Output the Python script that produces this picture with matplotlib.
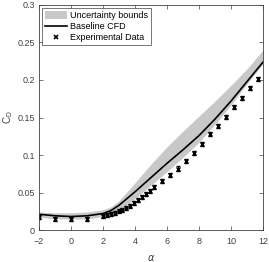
import matplotlib
matplotlib.use('agg')
import matplotlib.pyplot as plt
from matplotlib.lines import Line2D
from matplotlib.patches import Patch

exp_alpha = [-2, -1, 0, 1, 2.0, 2.25, 2.5, 2.75, 3.0, 3.2, 3.45, 3.7, 3.95,
             4.2, 4.45, 4.7, 4.95, 5.2, 5.7, 6.2, 6.7, 7.2, 7.7, 8.2, 8.7,
             9.2, 9.7, 10.2, 10.7, 11.2, 11.7]
exp_cd = [0.018, 0.0145, 0.0145, 0.015, 0.019, 0.020, 0.021, 0.023, 0.025,
          0.027, 0.029, 0.032, 0.036, 0.040, 0.044, 0.048, 0.052, 0.057,
          0.065, 0.073, 0.082, 0.092, 0.103, 0.115, 0.128, 0.139, 0.151,
          0.164, 0.176, 0.189, 0.201]
exp_err = 0.0027

# baseline CFD
cfd_alpha = [-2, -1, 0, 1, 2, 2.5, 3, 3.5, 4, 5, 6, 7, 8, 9, 10, 11, 12]
cfd_cd = [0.021, 0.019, 0.018, 0.019, 0.022, 0.026, 0.033, 0.042, 0.051,
          0.070, 0.089, 0.107, 0.126, 0.148, 0.172, 0.198, 0.224]

# uncertainty bounds
band_alpha = [-2, -1, 0, 1, 2, 2.5, 3, 4, 5, 6, 7, 8, 9, 10, 11, 12]
band_lo = [0.017, 0.015, 0.0145, 0.015, 0.018, 0.021, 0.026, 0.042, 0.060,
           0.078, 0.097, 0.117, 0.141, 0.167, 0.195, 0.222]
band_hi = [0.024, 0.023, 0.023, 0.024, 0.027, 0.031, 0.039, 0.063, 0.088,
           0.111, 0.132, 0.152, 0.172, 0.193, 0.215, 0.240]

plt.rcParams['font.family'] = ['Liberation Sans', 'DejaVu Sans']
plt.rcParams['font.size'] = 6.5
axcol = '#404040'

fig = plt.figure(figsize=(2.69, 2.62), dpi=100)
ax = fig.add_axes([0.145, 0.122, 0.833, 0.859])

ax.fill_between(band_alpha, band_lo, band_hi, color='#c8c8c8', linewidth=0)
ax.plot(cfd_alpha, cfd_cd, color='black', linewidth=1.2)
ax.errorbar(exp_alpha, exp_cd, yerr=exp_err, fmt='x', color='black',
            markersize=3, markeredgewidth=1.0, elinewidth=0.8, capsize=1.5,
            capthick=0.8)

ax.set_xlim(-2, 12)
ax.set_ylim(0, 0.3)
ax.set_xticks([-2, 0, 2, 4, 6, 8, 10, 12])
ax.set_yticks([0, 0.05, 0.1, 0.15, 0.2, 0.25, 0.3])
ax.set_yticklabels(['0', '0.05', '0.1', '0.15', '0.2', '0.25', '0.3'])
ax.tick_params(direction='in', top=True, right=True, length=3, width=0.5,
               colors=axcol, labelsize=6.5)
ax.tick_params(axis='x', pad=5)
ax.tick_params(axis='y', pad=3)
for s in ax.spines.values():
    s.set_linewidth(0.6)
    s.set_color(axcol)

ax.set_xlabel(r'$\alpha$', fontsize=7, labelpad=5, color=axcol)
ax.set_ylabel(r'$\mathregular{C_D}$', fontsize=7, labelpad=2, color=axcol)

handles = [Patch(facecolor='#c8c8c8', edgecolor='none'),
           Line2D([], [], color='black', linewidth=1.2),
           Line2D([], [], color='black', marker='x', linestyle='none',
                  markersize=3, markeredgewidth=1.2)]
labels = ['Uncertainty bounds', 'Baseline CFD', 'Experimental Data']
leg = ax.legend(handles, labels, loc='upper left', fontsize=6.5, frameon=True,
                fancybox=False, edgecolor=axcol, framealpha=1, borderpad=0.35,
                handlelength=2.4, handleheight=1.0, handletextpad=0.3,
                labelspacing=0.2, borderaxespad=0.35)
leg.get_frame().set_linewidth(0.5)

fig.savefig('out.png', dpi=100)
